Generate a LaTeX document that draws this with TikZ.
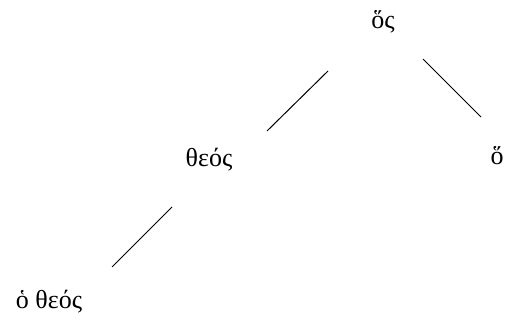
\documentclass[tikz,border=0pt]{standalone}
\usepackage{fontspec}
\setmainfont{Liberation Serif}
\begin{document}
\begin{tikzpicture}[x=1pt,y=-1pt,
  lbl/.style={inner sep=0pt,font=\fontsize{26}{30}\selectfont,anchor=base},
  edge/.style={line width=1pt}]
\useasboundingbox (0,0) rectangle (508,320);
\node[lbl] (top) at (383,29) {ὅς};
\node[lbl] (theos) at (209,167) {θεός};
\node[lbl] (ho) at (497,165) {ὅ};
\node[lbl] (bot) at (49,308) {ὁ θεός};
\coordinate (a1) at (328,71);
\coordinate (a2) at (267,131);
\coordinate (b1) at (423,59);
\coordinate (b2) at (481,117);
\coordinate (c1) at (172,207);
\coordinate (c2) at (112,267);
\draw[edge] (a1) -- (a2);
\draw[edge] (b1) -- (b2);
\draw[edge] (c1) -- (c2);
\end{tikzpicture}
\end{document}
